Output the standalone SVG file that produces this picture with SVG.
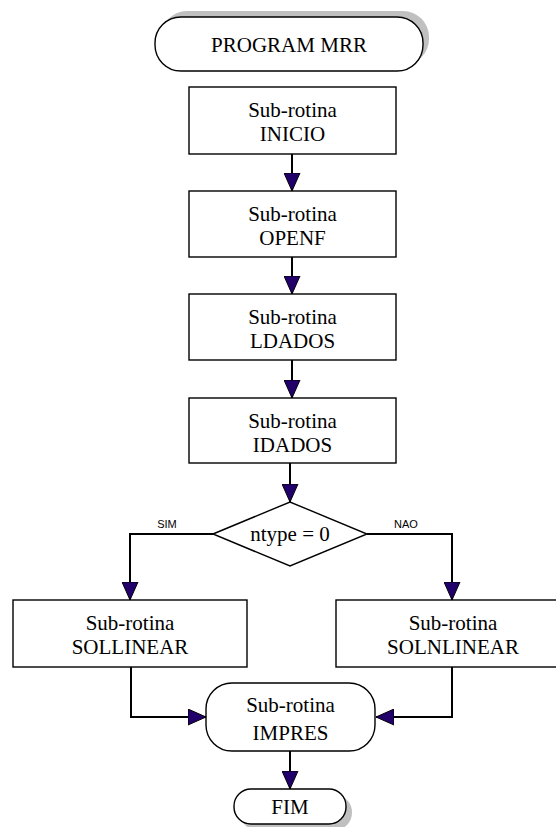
<svg xmlns="http://www.w3.org/2000/svg" width="556" height="827" viewBox="0 0 556 827">
  <style>
    .box { fill: #ffffff; stroke: #000000; stroke-width: 1.4; }
    .shadow { fill: #c0c0c0; stroke: none; }
    .lbl { font-family: "Liberation Serif", "Times New Roman", serif; font-size: 21px; fill: #000000; text-anchor: middle; }
    .tag { font-family: "Liberation Sans", Arial, sans-serif; font-size: 11px; fill: #000000; text-anchor: middle; }
    .edge { fill: none; stroke: #000000; stroke-width: 2; marker-end: url(#head); }
  </style>
  <defs>
    <marker id="head" viewBox="0 0 18 17" refX="18" refY="8.5" markerWidth="18" markerHeight="17" markerUnits="userSpaceOnUse" orient="auto">
      <path d="M0,0.5 L18,8.5 L0,16.5 Z" fill="#22006b" stroke="#000000" stroke-width="1"/>
    </marker>
  </defs>

  <rect width="556" height="827" fill="#ffffff"/>

  <g id="connectors">
    <path class="edge" d="M292,154 V191"/>
    <path class="edge" d="M292,257 V294"/>
    <path class="edge" d="M292,360 V398"/>
    <path class="edge" d="M290,463 V502"/>
    <path class="edge" d="M213,534 H130 V600"/>
    <path class="edge" d="M367,534 H452 V600"/>
    <path class="edge" d="M131,667 V717 H206"/>
    <path class="edge" d="M452,667 V717 H376"/>
    <path class="edge" d="M290,751 V789"/>
    <text class="tag" x="167" y="528">SIM</text>
    <text class="tag" x="406" y="528">NAO</text>
  </g>

  <g id="start">
    <rect class="shadow" x="161" y="11" width="268" height="54" rx="26" ry="26"/>
    <rect class="box" x="155" y="17" width="268" height="54" rx="26" ry="26"/>
    <text class="lbl" x="289" y="52">PROGRAM MRR</text>
  </g>

  <g id="inicio">
    <rect class="box" x="189" y="87" width="207" height="67"/>
    <text class="lbl" x="292.5" y="117">Sub-rotina</text>
    <text class="lbl" x="292.5" y="141">INICIO</text>
  </g>

  <g id="openf">
    <rect class="box" x="189" y="191" width="207" height="66"/>
    <text class="lbl" x="292.5" y="221">Sub-rotina</text>
    <text class="lbl" x="292.5" y="245">OPENF</text>
  </g>

  <g id="ldados">
    <rect class="box" x="189" y="294" width="207" height="66"/>
    <text class="lbl" x="292.5" y="324">Sub-rotina</text>
    <text class="lbl" x="292.5" y="348">LDADOS</text>
  </g>

  <g id="idados">
    <rect class="box" x="189" y="398" width="207" height="65"/>
    <text class="lbl" x="292.5" y="428">Sub-rotina</text>
    <text class="lbl" x="292.5" y="452">IDADOS</text>
  </g>

  <g id="decision">
    <polygon class="box" points="213,534 290,502 367,534 290,566"/>
    <text class="lbl" x="290" y="541">ntype = 0</text>
  </g>

  <g id="sollinear">
    <rect class="box" x="13" y="600" width="234" height="67"/>
    <text class="lbl" x="130" y="630">Sub-rotina</text>
    <text class="lbl" x="130" y="654">SOLLINEAR</text>
  </g>

  <g id="solnlinear">
    <rect class="box" x="336" y="600" width="234" height="67"/>
    <text class="lbl" x="453" y="630">Sub-rotina</text>
    <text class="lbl" x="453" y="654">SOLNLINEAR</text>
  </g>

  <g id="impres">
    <rect class="box" x="206" y="683" width="169" height="68" rx="26" ry="26"/>
    <text class="lbl" x="290.5" y="712">Sub-rotina</text>
    <text class="lbl" x="290.5" y="740">IMPRES</text>
  </g>

  <g id="fim">
    <rect class="shadow" x="240" y="795" width="112" height="35" rx="17" ry="17"/>
    <rect class="box" x="234" y="789" width="112" height="35" rx="17" ry="17"/>
    <text class="lbl" x="290" y="814">FIM</text>
  </g>
</svg>
